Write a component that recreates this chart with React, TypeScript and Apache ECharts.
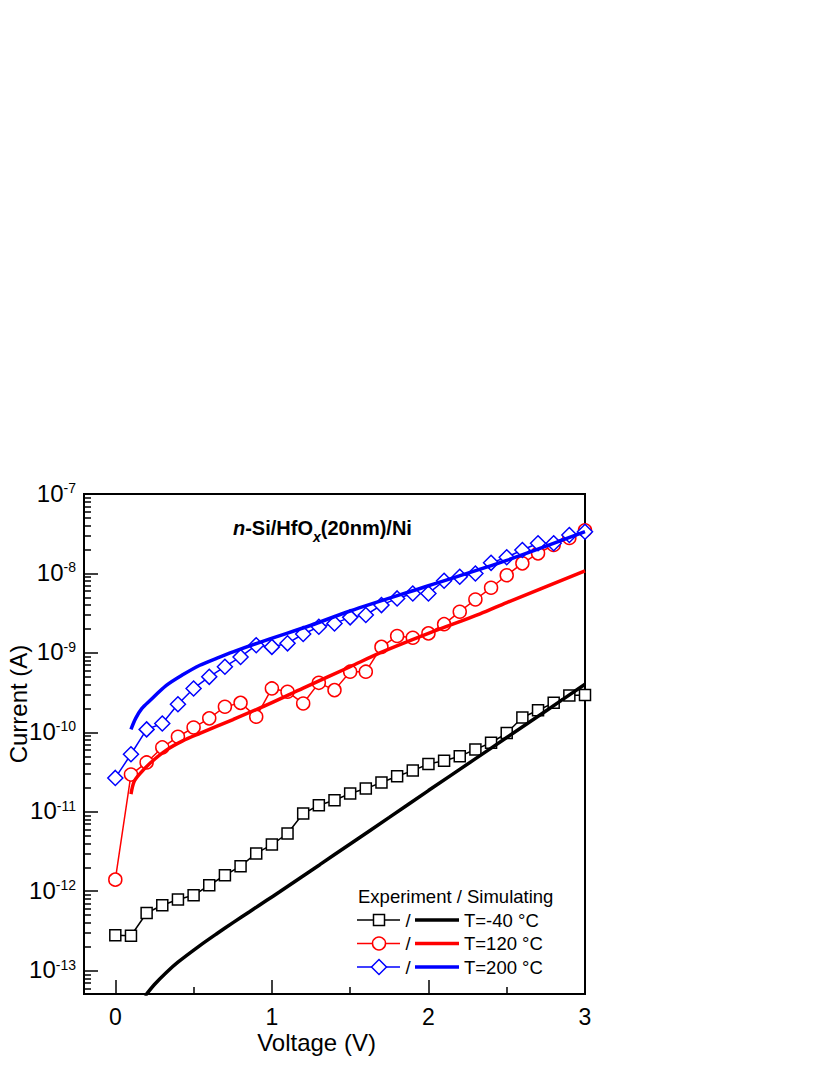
import React, { useEffect, useRef } from "react";
import * as echarts from "echarts";

// Experimental data (voltage in V, current in A)
const voltages = [0, 0.1, 0.2, 0.3, 0.4, 0.5, 0.6, 0.7, 0.8, 0.9, 1.0, 1.1, 1.2, 1.3, 1.4, 1.5, 1.6, 1.7, 1.8, 1.9, 2.0, 2.1, 2.2, 2.3, 2.4, 2.5, 2.6, 2.7, 2.8, 2.9, 3.0];
const expM40 = [2.79e-13, 2.75e-13, 5.33e-13, 6.67e-13, 7.86e-13, 8.9e-13, 1.19e-12, 1.59e-12, 2.07e-12, 2.99e-12, 3.87e-12, 5.33e-12, 9.5e-12, 1.21e-11, 1.4e-11, 1.7e-11, 1.96e-11, 2.34e-11, 2.8e-11, 3.3e-11, 4.0e-11, 4.4e-11, 5.0e-11, 6.1e-11, 7.4e-11, 9.8e-11, 1.54e-10, 1.9e-10, 2.35e-10, 2.9e-10, 2.95e-10];
const exp120 = [1.4e-12, 2.94e-11, 4.18e-11, 6.46e-11, 8.8e-11, 1.15e-10, 1.5e-10, 2.1e-10, 2.35e-10, 1.57e-10, 3.57e-10, 3.24e-10, 2.31e-10, 4.2e-10, 3.4e-10, 5.8e-10, 5.8e-10, 1.19e-9, 1.63e-9, 1.55e-9, 1.76e-9, 2.3e-9, 3.3e-9, 4.7e-9, 6.6e-9, 9.5e-9, 1.34e-8, 1.79e-8, 2.28e-8, 2.8e-8, 3.5e-8];
const exp200 = [2.67e-11, 5.3e-11, 1.09e-10, 1.29e-10, 2.26e-10, 3.57e-10, 5.0e-10, 6.7e-10, 8.9e-10, 1.25e-9, 1.19e-9, 1.32e-9, 1.73e-9, 2.13e-9, 2.35e-9, 2.8e-9, 3.0e-9, 4.0e-9, 4.85e-9, 5.6e-9, 5.6e-9, 8.1e-9, 9.1e-9, 1.0e-8, 1.36e-8, 1.6e-8, 1.97e-8, 2.4e-8, 2.4e-8, 3.05e-8, 3.35e-8];

// Simulated curves
const simVM40 = [0.19, 0.25, 0.326, 0.4, 0.54, 0.65, 0.752, 0.86, 0.965, 1.05, 1.178, 1.306, 1.5, 1.75, 2.0, 2.287, 2.5, 2.75, 3.0];
const simIM40 = [4.8e-14, 6.7e-14, 9.5e-14, 1.28e-13, 2.07e-13, 2.94e-13, 4.03e-13, 5.57e-13, 7.63e-13, 9.85e-13, 1.46e-12, 2.16e-12, 3.94e-12, 8.5e-12, 1.85e-11, 4.47e-11, 8.6e-11, 1.86e-10, 4.03e-10];
const simV120 = [0.1, 0.12, 0.156, 0.22, 0.326, 0.43, 0.54, 0.752, 0.965, 1.2, 1.5, 1.69, 2.0, 2.33, 2.5, 3.0];
const simI120 = [1.67e-11, 2.4e-11, 3.0e-11, 4.06e-11, 5.97e-11, 7.8e-11, 9.7e-11, 1.45e-10, 2.2e-10, 3.6e-10, 6.7e-10, 1.0e-9, 1.76e-9, 3.1e-9, 4.3e-9, 1.08e-8];
const simV200 = [0.1, 0.13, 0.17, 0.22, 0.326, 0.43, 0.54, 0.65, 0.752, 0.965, 1.25, 1.5, 2.0, 2.5, 3.0];
const simI200 = [1.09e-10, 1.5e-10, 2.0e-10, 2.5e-10, 3.9e-10, 5.3e-10, 7.0e-10, 8.6e-10, 1.03e-9, 1.45e-9, 2.23e-9, 3.37e-9, 7.0e-9, 1.46e-8, 3.35e-8];

// Axis ticks
const xTicks = [0, 1, 2, 3];
const xMinorTicks = [0.5, 1.5, 2.5];
const yTicks = [1e-13, 1e-12, 1e-11, 1e-10, 1e-9, 1e-8, 1e-7];
const yMin = 5.09e-14;
const yMax = 1e-7;

const legendLabels = ["T=-40 °C", "T=120 °C", "T=200 °C"];
const colors = ["#000000", "#ff0000", "#0000ff"];

const FONT = "'Liberation Sans', Arial, Helvetica, sans-serif";

function yMinorTicks(): number[] {
  const out: number[] = [];
  for (let e = -14; e <= -8; e++) {
    for (let k = 2; k <= 9; k++) {
      const v = k * Math.pow(10, e);
      if (v >= yMin && v <= yMax) out.push(v);
    }
  }
  return out;
}

export default function App() {
  const ref = useRef<HTMLDivElement>(null);
  useEffect(() => {
    if (!ref.current) return;
    const chart = echarts.init(ref.current, undefined, { renderer: "svg" });
    const pair = (xs: number[], ys: number[]) => xs.map((x, i) => [x, ys[i]]);

    const expSeries = (name: string, ys: number[], color: string, symbol: string, size: number) => ({
      name,
      type: "line",
      data: pair(voltages, ys),
      symbol,
      symbolSize: size,
      showSymbol: true,
      lineStyle: { color, width: 1.5 },
      itemStyle: { color: "#ffffff", borderColor: color, borderWidth: 1.5 },
      xAxisIndex: 0,
      yAxisIndex: 0,
      z: 2,
    });
    const simSeries = (name: string, xs: number[], ys: number[], color: string) => ({
      name,
      type: "line",
      data: pair(xs, ys),
      symbol: "none",
      smooth: 0.3,
      lineStyle: { color, width: 3.5 },
      xAxisIndex: 0,
      yAxisIndex: 0,
      z: 3,
    });

    const rowY = [920, 943.5, 967];
    const legendGraphics: any[] = [
      {
        type: "text",
        x: 358,
        y: 896,
        style: { text: "Experiment / Simulating", font: `18.5px ${FONT}`, fill: "#000", align: "left", verticalAlign: "middle" },
      },
    ];
    rowY.forEach((y, i) => {
      const c = colors[i];
      legendGraphics.push({ type: "line", shape: { x1: 357, y1: y, x2: 400, y2: y }, style: { stroke: c, lineWidth: 1.5 } });
      if (i === 0) {
        legendGraphics.push({ type: "rect", shape: { x: 373.5, y: y - 5.5, width: 11, height: 11 }, style: { fill: "#fff", stroke: c, lineWidth: 1.5 } });
      } else if (i === 1) {
        legendGraphics.push({ type: "circle", shape: { cx: 379, cy: y, r: 6.5 }, style: { fill: "#fff", stroke: c, lineWidth: 1.5 } });
      } else {
        legendGraphics.push({ type: "polygon", shape: { points: [[379, y - 7.5], [386.5, y], [379, y + 7.5], [371.5, y]] }, style: { fill: "#fff", stroke: c, lineWidth: 1.5 } });
      }
      legendGraphics.push({ type: "text", x: 408, y, style: { text: "/", font: `18.5px ${FONT}`, fill: "#000", align: "center", verticalAlign: "middle" } });
      legendGraphics.push({ type: "line", shape: { x1: 415, y1: y, x2: 459, y2: y }, style: { stroke: c, lineWidth: 3.5 } });
      legendGraphics.push({ type: "text", x: 464, y, style: { text: legendLabels[i], font: `18.5px ${FONT}`, fill: "#000", align: "left", verticalAlign: "middle" } });
    });

    const baseX = { type: "value", min: -0.2, max: 3, splitLine: { show: false } };
    const baseY = { type: "log", logBase: 10, min: yMin, max: yMax, splitLine: { show: false } };

    chart.setOption({
      animation: false,
      backgroundColor: "#ffffff",
      textStyle: { fontFamily: FONT },
      title: {
        text: "{i|n}{b|-Si/HfO}{s|x}{b|(20nm)/Ni}",
        left: 233,
        top: 518,
        padding: 0,
        textStyle: {
          rich: {
            i: { fontSize: 20, fontWeight: "bold", fontStyle: "italic", fontFamily: FONT, color: "#000", lineHeight: 22, verticalAlign: "top" },
            b: { fontSize: 20, fontWeight: "bold", fontFamily: FONT, color: "#000", lineHeight: 22, verticalAlign: "top" },
            s: { fontSize: 14, fontWeight: "bold", fontStyle: "italic", fontFamily: FONT, color: "#000", lineHeight: 14, padding: [12, 0, 0, 0], verticalAlign: "top" },
          },
        },
      },
      grid: {
        left: 84,
        top: 494,
        width: 501,
        height: 500,
        show: true,
        borderColor: "#000",
        borderWidth: 2,
        backgroundColor: "transparent",
        containLabel: false,
        outerBoundsMode: "none",
      },
      xAxis: [
        {
          ...baseX,
          position: "bottom",
          name: "Voltage (V)",
          nameLocation: "middle",
          nameGap: 36,
          nameMoveOverlap: false,
          nameTextStyle: { fontSize: 24, color: "#000", fontFamily: FONT, padding: [0, 36, 0, 0] },
          axisLine: { show: true, onZero: false, lineStyle: { color: "#000", width: 2 } },
          axisTick: { show: true, inside: true, length: 14, customValues: xTicks, lineStyle: { color: "#000", width: 1.5 } },
          axisLabel: { show: true, customValues: xTicks, fontSize: 23, color: "#000", margin: 11, fontFamily: FONT },
        },
        {
          ...baseX,
          position: "bottom",
          axisLine: { show: false, onZero: false },
          axisTick: { show: true, inside: true, length: 7, customValues: xMinorTicks, lineStyle: { color: "#000", width: 1.5 } },
          axisLabel: { show: false },
        },
      ],
      yAxis: [
        {
          ...baseY,
          position: "left",
          name: "Current (A)",
          nameLocation: "middle",
          nameGap: 54,
          nameMoveOverlap: false,
          nameTextStyle: { fontSize: 24, color: "#000", fontFamily: FONT, padding: [0, 0, 0, 80] },
          axisLine: { show: true, onZero: false, lineStyle: { color: "#000", width: 2 } },
          axisTick: { show: true, inside: true, length: 14, customValues: yTicks, lineStyle: { color: "#000", width: 1.5 } },
          axisLabel: {
            show: true,
            customValues: yTicks,
            margin: 8,
            formatter: (v: number) => `{b|10}{s|${Math.round(Math.log10(v))}}`,
            rich: {
              b: { fontSize: 24, color: "#000", fontFamily: FONT, lineHeight: 26, verticalAlign: "top" },
              s: { fontSize: 14, color: "#000", fontFamily: FONT, lineHeight: 14, verticalAlign: "top" },
            },
          },
        },
        {
          ...baseY,
          position: "left",
          axisLine: { show: false, onZero: false },
          axisTick: { show: true, inside: true, length: 7, customValues: yMinorTicks(), lineStyle: { color: "#000", width: 1.5 } },
          axisLabel: { show: false },
        },
      ],
      series: [
        expSeries("exp-40", expM40, colors[0], "rect", 11),
        expSeries("exp120", exp120, colors[1], "circle", 13),
        expSeries("exp200", exp200, colors[2], "diamond", 15),
        simSeries("sim-40", simVM40, simIM40, colors[0]),
        simSeries("sim120", simV120, simI120, colors[1]),
        simSeries("sim200", simV200, simI200, colors[2]),
      ],
      graphic: legendGraphics,
    });
    return () => chart.dispose();
  }, []);
  return (
    <div
      ref={ref}
      style={{ position: "absolute", left: 0, top: 0, width: 830, height: 1075, background: "#fff" }}
    />
  );
}
